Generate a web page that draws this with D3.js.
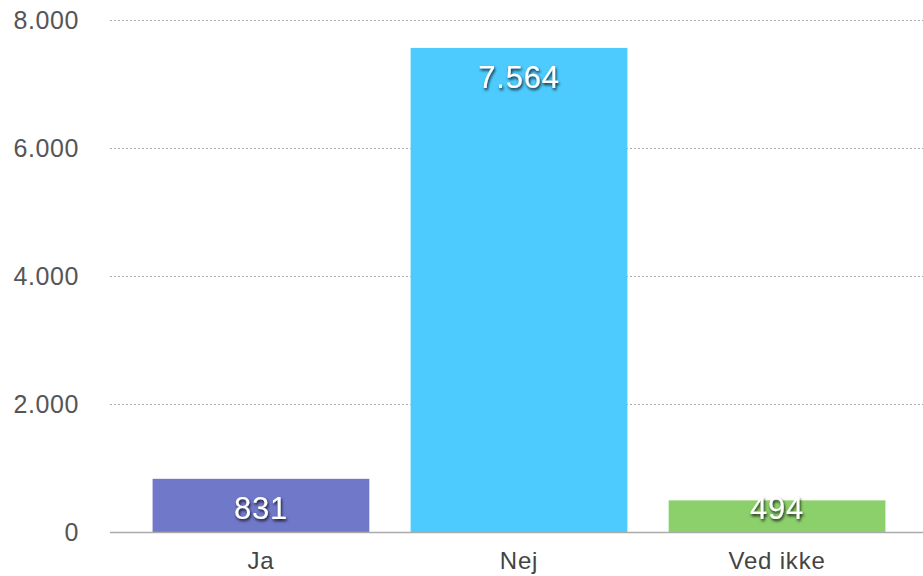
<!DOCTYPE html>
<html>
<head>
<meta charset="utf-8">
<script src="https://cdn.jsdelivr.net/npm/d3@7"></script>
<style>
  body { margin: 0; background: #fff; }
  svg text { font-family: "Liberation Sans", Arial, Helvetica, sans-serif; }
</style>
</head>
<body>
<script>
// data
var categories = ["Ja", "Nej", "Ved ikke"];
var values = [831, 7564, 494];
var colors = ["#7079c9", "#4dcbff", "#8bd06a"];
var yTicks = [0, 2000, 4000, 6000, 8000];

var W = 923, H = 576;
var mLeft = 110, mRight = 923, mTop = 20, mBottom = 532;

var fmt = function(v) { return d3.format(",")(v).replace(/,/g, "."); };

var x = d3.scaleBand().domain(categories).range([mLeft, 928]).paddingInner(0.16).paddingOuter(0.165);
var y = d3.scaleLinear().domain([0, 8000]).range([mBottom, mTop]);

var svg = d3.select("body").append("svg")
    .attr("width", W)
    .attr("height", H);

var defs = svg.append("defs");
var f = defs.append("filter").attr("id", "shadow")
    .attr("x", "-20%").attr("y", "-30%").attr("width", "140%").attr("height", "170%");
f.append("feDropShadow")
    .attr("dx", 1).attr("dy", 2).attr("stdDeviation", 1.6)
    .attr("flood-color", "#000").attr("flood-opacity", 0.85);

// gridlines
svg.append("g").selectAll("line")
    .data(yTicks.filter(function(d) { return d > 0; }))
  .enter().append("line")
    .attr("x1", mLeft).attr("x2", mRight)
    .attr("y1", function(d) { return y(d) + 0.5; })
    .attr("y2", function(d) { return y(d) + 0.5; })
    .attr("stroke", "#aaa")
    .attr("stroke-width", 1)
    .attr("stroke-dasharray", "2,2");

// y labels
svg.append("g").selectAll("text")
    .data(yTicks)
  .enter().append("text")
    .attr("x", 79)
    .attr("y", function(d) { return y(d) + 9; })
    .attr("text-anchor", "end")
    .attr("font-size", 25)
    .attr("letter-spacing", 0.6)
    .attr("fill", "#555")
    .text(fmt);

// bars
svg.append("g").selectAll("rect")
    .data(values)
  .enter().append("rect")
    .attr("x", function(d, i) { return x(categories[i]); })
    .attr("width", x.bandwidth())
    .attr("y", function(d) { return y(d); })
    .attr("height", function(d) { return y(0) - y(d); })
    .attr("fill", function(d, i) { return colors[i]; });

// baseline
svg.append("line")
    .attr("x1", mLeft).attr("x2", mRight)
    .attr("y1", mBottom + 0.5).attr("y2", mBottom + 0.5)
    .attr("stroke", "#aaa")
    .attr("stroke-width", 1.5);

// value labels
svg.append("g").selectAll("text")
    .data(values)
  .enter().append("text")
    .attr("x", function(d, i) { return x(categories[i]) + x.bandwidth() / 2; })
    .attr("y", function(d) { return Math.min(y(d) + 40, y(0) - 13); })
    .attr("text-anchor", "middle")
    .attr("font-size", 31)
    .attr("letter-spacing", 0.8)
    .attr("fill", "#fff")
    .attr("filter", "url(#shadow)")
    .text(fmt);

// category labels
svg.append("g").selectAll("text")
    .data(categories)
  .enter().append("text")
    .attr("x", function(d) { return x(d) + x.bandwidth() / 2; })
    .attr("y", 569)
    .attr("text-anchor", "middle")
    .attr("font-size", 24)
    .attr("letter-spacing", 0.8)
    .attr("fill", "#444")
    .text(function(d) { return d; });
</script>
</body>
</html>
